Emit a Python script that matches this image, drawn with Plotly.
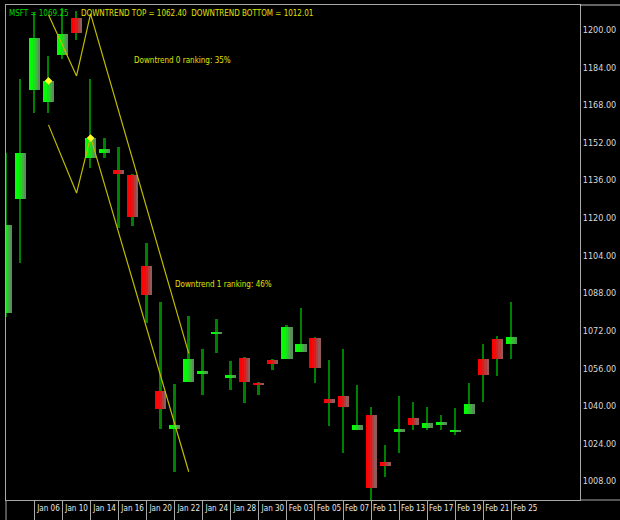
import plotly.graph_objects as go

# ---------------- data ----------------
tick_labels = ["Jan 06", "Jan 10", "Jan 14", "Jan 16", "Jan 20", "Jan 22", "Jan 24",
               "Jan 28", "Jan 30", "Feb 03", "Feb 05", "Feb 07", "Feb 11", "Feb 13",
               "Feb 17", "Feb 19", "Feb 21", "Feb 25"]

opens = [1079.6, 1128.1, 1174.5, 1169.4, 1189.4, 1205.1, 1145.5, 1147.7, 1140.4, 1138.3,
         1099.6, 1046.4, 1030.2, 1050.2, 1053.6, 1070.6, 1051.9, 1060.4, 1049.8, 1059.6,
         1060.0, 1063.0, 1068.9, 1043.0, 1044.3, 1029.8, 1036.2, 1016.2, 1028.9, 1034.9,
         1030.6, 1031.9, 1028.9, 1036.6, 1060.0, 1068.5, 1066.4]
highs = [1147.7, 1179.1, 1207.7, 1188.9, 1209.4, 1208.0, 1179.1, 1154.0, 1150.2, 1138.6,
         1109.4, 1084.3, 1049.4, 1078.3, 1064.3, 1077.0, 1059.1, 1060.8, 1050.2, 1060.0,
         1074.5, 1081.7, 1069.2, 1059.6, 1064.3, 1048.9, 1039.6, 1023.4, 1044.3, 1041.7,
         1039.6, 1036.2, 1039.1, 1049.8, 1066.4, 1069.8, 1084.3]
lows = [1078.0, 1100.9, 1164.7, 1164.7, 1187.7, 1195.7, 1141.3, 1145.5, 1115.7, 1116.6,
        1075.3, 1030.2, 1011.9, 1050.0, 1044.7, 1062.6, 1046.8, 1041.3, 1044.7, 1055.3,
        1059.8, 1062.8, 1049.8, 1031.5, 1020.0, 1029.6, 996.0, 1009.8, 1020.0, 1029.8,
        1029.8, 1029.8, 1027.7, 1036.4, 1041.7, 1052.8, 1060.0]
closes = [1117.0, 1147.7, 1196.6, 1178.3, 1198.3, 1198.7, 1154.0, 1149.4, 1138.7, 1120.4,
          1087.2, 1038.7, 1031.9, 1060.0, 1054.9, 1071.5, 1053.2, 1050.2, 1048.9, 1057.9,
          1073.6, 1066.4, 1056.2, 1041.3, 1039.6, 1031.9, 1005.1, 1014.5, 1030.2, 1031.9,
          1032.8, 1033.2, 1029.8, 1040.9, 1053.2, 1060.0, 1069.25]

trend0_x = [3, 5, 6, 13]
trend0_y = [1206.4, 1180.4, 1206.8, 1062.40]
trend1_x = [3, 5, 6, 13]
trend1_y = [1159.6, 1130.6, 1154.5, 1012.01]
pivot_x = [3, 6]
pivot_y = [1178.3, 1154.0]

y_ticks = [1008, 1024, 1040, 1056, 1072, 1088, 1104, 1120, 1136, 1152, 1168, 1184, 1200]

# ---------------- figure ----------------
n = len(opens)
xs = list(range(n))
label_pos = [3 + 2 * i for i in range(len(tick_labels))]
sep_pos = [2 + 2 * i for i in range(len(tick_labels))]

FONT = "DejaVu Sans Condensed, Liberation Sans Narrow, sans-serif"

fig = go.Figure()

# wicks
fig.add_trace(go.Bar(
    x=xs, base=lows, y=[h - l for h, l in zip(highs, lows)],
    width=0.13, marker=dict(color="#008000", line=dict(width=0)),
    hoverinfo="skip", showlegend=False))

def lerp(c1, c2, t):
    return "rgb(%d,%d,%d)" % tuple(round(a + (b - a) * t) for a, b in zip(c1, c2))

up_a, up_b = (0, 255, 0), (95, 135, 95)
dn_a, dn_b = (255, 0, 0), (140, 95, 95)
strips = [0.0, 0.1, 0.3, 0.6, 0.95]
body_w = 0.78
sw = body_w / len(strips)
base = [min(o, c) for o, c in zip(opens, closes)]
hgt = [max(abs(c - o), 0.9) for o, c in zip(opens, closes)]
for k, t in enumerate(strips):
    cols = [lerp(up_a, up_b, t) if c >= o else lerp(dn_a, dn_b, t)
            for o, c in zip(opens, closes)]
    fig.add_trace(go.Bar(
        x=xs, base=base, y=hgt, width=sw + 0.01,
        offset=-body_w / 2 + k * sw,
        marker=dict(color=cols, line=dict(width=0)),
        hoverinfo="skip", showlegend=False))

# downtrend channels
for tx, ty in [(trend0_x, trend0_y), (trend1_x, trend1_y)]:
    fig.add_trace(go.Scatter(x=tx, y=ty, mode="lines",
                             line=dict(color="#c0bc00", width=1.2),
                             hoverinfo="skip", showlegend=False))
fig.add_trace(go.Scatter(x=pivot_x, y=pivot_y, mode="markers",
                         marker=dict(symbol="diamond", size=6, color="#ffff20"),
                         hoverinfo="skip", showlegend=False))

grid_c = "#a8a8a8"
fig.update_layout(
    template="none",
    width=620, height=520,
    margin=dict(l=6, r=40, t=5, b=20, autoexpand=False),
    paper_bgcolor="black", plot_bgcolor="black",
    barmode="overlay", bargap=0,
    font=dict(family=FONT, size=9, color="#e0e0e0"),
    xaxis=dict(range=[-0.03, 40.9], showgrid=False, zeroline=False, automargin=False,
               showline=True, mirror=True, linecolor=grid_c, linewidth=1,
               tickmode="array", tickvals=label_pos, ticktext=tick_labels,
               tickangle=0, ticks="", tickfont=dict(family=FONT, size=8, color="#e8e8e8"),
               minor=dict(tickmode="array", tickvals=sep_pos, ticks="outside",
                          ticklen=20, tickcolor=grid_c, tickwidth=1)),
    yaxis=dict(range=[1000, 1210.6], side="right", showgrid=False, zeroline=False,
               automargin=False,
               showline=True, mirror=True, linecolor=grid_c, linewidth=1,
               tickmode="array", tickvals=y_ticks,
               ticktext=["%.2f" % v for v in y_ticks], ticks="",
               tickfont=dict(family=FONT, size=9, color="#d8d8d8")),
    shapes=[
        dict(type="line", xref="paper", yref="paper", x0=1, x1=1.08, y0=0, y1=0,
             line=dict(color=grid_c, width=1)),
        dict(type="line", xref="paper", yref="paper", x0=1, x1=1.08, y0=1, y1=1,
             line=dict(color="#c8c8c8", width=1)),
        dict(type="line", xref="paper", yref="paper", x0=0, x1=0, y0=-0.05, y1=0,
             line=dict(color=grid_c, width=1)),
    ],
    annotations=[
        dict(xref="paper", yref="paper", x=0.002, y=0.982, xanchor="left", yanchor="middle",
             text="MSFT = 1069.25", showarrow=False,
             font=dict(family=FONT, size=8, color="#00d800")),
        dict(xref="paper", yref="paper", x=0.127, y=0.982, xanchor="left", yanchor="middle",
             text="DOWNTREND TOP = 1062.40  DOWNTREND BOTTOM = 1012.01", showarrow=False,
             font=dict(family=FONT, size=8, color="#e0e000")),
        dict(xref="paper", yref="paper", x=0.2195, y=0.887, xanchor="left", yanchor="middle",
             text="Downtrend 0 ranking: 35%", showarrow=False,
             font=dict(family=FONT, size=8, color="#e0e000")),
        dict(xref="paper", yref="paper", x=0.291, y=0.436, xanchor="left", yanchor="middle",
             text="Downtrend 1 ranking: 46%", showarrow=False,
             font=dict(family=FONT, size=8, color="#e0e000")),
    ],
)

fig.write_html("out.html",
               config={"displayModeBar": False},
               post_script="document.body.style.margin='0px';"
                           "document.body.style.background='black';")
